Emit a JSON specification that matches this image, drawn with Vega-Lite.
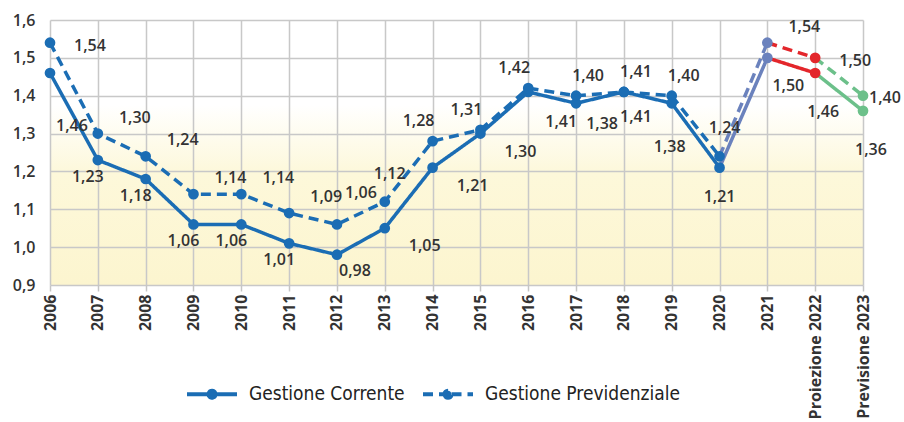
{
  "$schema": "https://vega.github.io/schema/vega-lite/v6.json",
  "width": 813,
  "height": 265,
  "autosize": {"type": "none"},
  "padding": {"left": 50, "top": 20, "right": 41, "bottom": 137},
  "background": "#ffffff",
  "config": {
    "locale": {"number": {"decimal": ",", "thousands": ".", "grouping": [3], "currency": ["€", ""]}},
    "view": {
      "stroke": null,
      "fill": {
        "gradient": "linear", "x1": 0, "y1": 0, "x2": 0, "y2": 1,
        "stops": [
          {"offset": 0, "color": "#ffffff"},
          {"offset": 0.32, "color": "#ffffff"},
          {"offset": 0.58, "color": "#fdf8da"},
          {"offset": 1, "color": "#fcf5cf"}
        ]
      }
    },
    "text": {"font": "Open Sans", "fontSize": 16, "fontWeight": 600, "fill": "#333333"}
  },
  "datasets": {
    "punti": [
      {"anno": "2006", "serie": "Gestione Corrente", "valore": 1.46, "tratto": "storico"},
      {"anno": "2007", "serie": "Gestione Corrente", "valore": 1.23, "tratto": "storico"},
      {"anno": "2008", "serie": "Gestione Corrente", "valore": 1.18, "tratto": "storico"},
      {"anno": "2009", "serie": "Gestione Corrente", "valore": 1.06, "tratto": "storico"},
      {"anno": "2010", "serie": "Gestione Corrente", "valore": 1.06, "tratto": "storico"},
      {"anno": "2011", "serie": "Gestione Corrente", "valore": 1.01, "tratto": "storico"},
      {"anno": "2012", "serie": "Gestione Corrente", "valore": 0.98, "tratto": "storico"},
      {"anno": "2013", "serie": "Gestione Corrente", "valore": 1.05, "tratto": "storico"},
      {"anno": "2014", "serie": "Gestione Corrente", "valore": 1.21, "tratto": "storico"},
      {"anno": "2015", "serie": "Gestione Corrente", "valore": 1.30, "tratto": "storico"},
      {"anno": "2016", "serie": "Gestione Corrente", "valore": 1.41, "tratto": "storico"},
      {"anno": "2017", "serie": "Gestione Corrente", "valore": 1.38, "tratto": "storico"},
      {"anno": "2018", "serie": "Gestione Corrente", "valore": 1.41, "tratto": "storico"},
      {"anno": "2019", "serie": "Gestione Corrente", "valore": 1.38, "tratto": "storico"},
      {"anno": "2020", "serie": "Gestione Corrente", "valore": 1.21, "tratto": "storico"},
      {"anno": "2021", "serie": "Gestione Corrente", "valore": 1.50, "tratto": "ponte"},
      {"anno": "Proiezione 2022", "serie": "Gestione Corrente", "valore": 1.46, "tratto": "proiezione"},
      {"anno": "Previsione 2023", "serie": "Gestione Corrente", "valore": 1.36, "tratto": "previsione"},
      {"anno": "2006", "serie": "Gestione Previdenziale", "valore": 1.54, "tratto": "storico"},
      {"anno": "2007", "serie": "Gestione Previdenziale", "valore": 1.30, "tratto": "storico"},
      {"anno": "2008", "serie": "Gestione Previdenziale", "valore": 1.24, "tratto": "storico"},
      {"anno": "2009", "serie": "Gestione Previdenziale", "valore": 1.14, "tratto": "storico"},
      {"anno": "2010", "serie": "Gestione Previdenziale", "valore": 1.14, "tratto": "storico"},
      {"anno": "2011", "serie": "Gestione Previdenziale", "valore": 1.09, "tratto": "storico"},
      {"anno": "2012", "serie": "Gestione Previdenziale", "valore": 1.06, "tratto": "storico"},
      {"anno": "2013", "serie": "Gestione Previdenziale", "valore": 1.12, "tratto": "storico"},
      {"anno": "2014", "serie": "Gestione Previdenziale", "valore": 1.28, "tratto": "storico"},
      {"anno": "2015", "serie": "Gestione Previdenziale", "valore": 1.31, "tratto": "storico"},
      {"anno": "2016", "serie": "Gestione Previdenziale", "valore": 1.42, "tratto": "storico"},
      {"anno": "2017", "serie": "Gestione Previdenziale", "valore": 1.40, "tratto": "storico"},
      {"anno": "2018", "serie": "Gestione Previdenziale", "valore": 1.41, "tratto": "storico"},
      {"anno": "2019", "serie": "Gestione Previdenziale", "valore": 1.40, "tratto": "storico"},
      {"anno": "2020", "serie": "Gestione Previdenziale", "valore": 1.24, "tratto": "storico"},
      {"anno": "2021", "serie": "Gestione Previdenziale", "valore": 1.54, "tratto": "ponte"},
      {"anno": "Proiezione 2022", "serie": "Gestione Previdenziale", "valore": 1.50, "tratto": "proiezione"},
      {"anno": "Previsione 2023", "serie": "Gestione Previdenziale", "valore": 1.40, "tratto": "previsione"}
    ],
    "linee": [
      {"anno": "2006", "serie": "Gestione Corrente", "valore": 1.46, "tratto": "storico"},
      {"anno": "2007", "serie": "Gestione Corrente", "valore": 1.23, "tratto": "storico"},
      {"anno": "2008", "serie": "Gestione Corrente", "valore": 1.18, "tratto": "storico"},
      {"anno": "2009", "serie": "Gestione Corrente", "valore": 1.06, "tratto": "storico"},
      {"anno": "2010", "serie": "Gestione Corrente", "valore": 1.06, "tratto": "storico"},
      {"anno": "2011", "serie": "Gestione Corrente", "valore": 1.01, "tratto": "storico"},
      {"anno": "2012", "serie": "Gestione Corrente", "valore": 0.98, "tratto": "storico"},
      {"anno": "2013", "serie": "Gestione Corrente", "valore": 1.05, "tratto": "storico"},
      {"anno": "2014", "serie": "Gestione Corrente", "valore": 1.21, "tratto": "storico"},
      {"anno": "2015", "serie": "Gestione Corrente", "valore": 1.30, "tratto": "storico"},
      {"anno": "2016", "serie": "Gestione Corrente", "valore": 1.41, "tratto": "storico"},
      {"anno": "2017", "serie": "Gestione Corrente", "valore": 1.38, "tratto": "storico"},
      {"anno": "2018", "serie": "Gestione Corrente", "valore": 1.41, "tratto": "storico"},
      {"anno": "2019", "serie": "Gestione Corrente", "valore": 1.38, "tratto": "storico"},
      {"anno": "2020", "serie": "Gestione Corrente", "valore": 1.21, "tratto": "storico"},
      {"anno": "2020", "serie": "Gestione Corrente", "valore": 1.21, "tratto": "ponte"},
      {"anno": "2021", "serie": "Gestione Corrente", "valore": 1.50, "tratto": "ponte"},
      {"anno": "2021", "serie": "Gestione Corrente", "valore": 1.50, "tratto": "proiezione"},
      {"anno": "Proiezione 2022", "serie": "Gestione Corrente", "valore": 1.46, "tratto": "proiezione"},
      {"anno": "Proiezione 2022", "serie": "Gestione Corrente", "valore": 1.46, "tratto": "previsione"},
      {"anno": "Previsione 2023", "serie": "Gestione Corrente", "valore": 1.36, "tratto": "previsione"},
      {"anno": "2006", "serie": "Gestione Previdenziale", "valore": 1.54, "tratto": "storico"},
      {"anno": "2007", "serie": "Gestione Previdenziale", "valore": 1.30, "tratto": "storico"},
      {"anno": "2008", "serie": "Gestione Previdenziale", "valore": 1.24, "tratto": "storico"},
      {"anno": "2009", "serie": "Gestione Previdenziale", "valore": 1.14, "tratto": "storico"},
      {"anno": "2010", "serie": "Gestione Previdenziale", "valore": 1.14, "tratto": "storico"},
      {"anno": "2011", "serie": "Gestione Previdenziale", "valore": 1.09, "tratto": "storico"},
      {"anno": "2012", "serie": "Gestione Previdenziale", "valore": 1.06, "tratto": "storico"},
      {"anno": "2013", "serie": "Gestione Previdenziale", "valore": 1.12, "tratto": "storico"},
      {"anno": "2014", "serie": "Gestione Previdenziale", "valore": 1.28, "tratto": "storico"},
      {"anno": "2015", "serie": "Gestione Previdenziale", "valore": 1.31, "tratto": "storico"},
      {"anno": "2016", "serie": "Gestione Previdenziale", "valore": 1.42, "tratto": "storico"},
      {"anno": "2017", "serie": "Gestione Previdenziale", "valore": 1.40, "tratto": "storico"},
      {"anno": "2018", "serie": "Gestione Previdenziale", "valore": 1.41, "tratto": "storico"},
      {"anno": "2019", "serie": "Gestione Previdenziale", "valore": 1.40, "tratto": "storico"},
      {"anno": "2020", "serie": "Gestione Previdenziale", "valore": 1.24, "tratto": "storico"},
      {"anno": "2020", "serie": "Gestione Previdenziale", "valore": 1.24, "tratto": "ponte"},
      {"anno": "2021", "serie": "Gestione Previdenziale", "valore": 1.54, "tratto": "ponte"},
      {"anno": "2021", "serie": "Gestione Previdenziale", "valore": 1.54, "tratto": "proiezione"},
      {"anno": "Proiezione 2022", "serie": "Gestione Previdenziale", "valore": 1.50, "tratto": "proiezione"},
      {"anno": "Proiezione 2022", "serie": "Gestione Previdenziale", "valore": 1.50, "tratto": "previsione"},
      {"anno": "Previsione 2023", "serie": "Gestione Previdenziale", "valore": 1.40, "tratto": "previsione"}
    ]
  },
  "encoding": {
    "x": {
      "field": "anno", "type": "ordinal",
      "scale": {"type": "point", "padding": 0, "domain": ["2006","2007","2008","2009","2010","2011","2012","2013","2014","2015","2016","2017","2018","2019","2020","2021","Proiezione 2022","Previsione 2023"]},
      "axis": {
        "title": null, "labelAngle": -90, "labelFont": "Open Sans", "labelFontSize": 16, "labelFontWeight": "bold",
        "labelColor": "#333333", "labelPadding": 3, "domain": false, "tickColor": "#c5c5c5", "tickWidth": 1.5, "tickSize": 6,
        "grid": true, "gridColor": "#c8c8c8", "gridWidth": 1.5
      }
    },
    "y": {
      "field": "valore", "type": "quantitative",
      "scale": {"domain": [0.9, 1.6], "zero": false, "nice": false},
      "axis": {
        "title": null, "values": [0.9, 1.0, 1.1, 1.2, 1.3, 1.4, 1.5, 1.6], "format": ".1f",
        "labelFont": "Open Sans", "labelFontSize": 16, "labelFontWeight": 600, "labelColor": "#333333",
        "labelPadding": 15, "ticks": false, "domain": false, "grid": true, "gridColor": "#c8c8c8", "gridWidth": 1.5
      }
    }
  },
  "layer": [
    {
      "data": {"name": "linee"},
      "mark": {"type": "line", "strokeWidth": 3.5, "strokeCap": "butt"},
      "encoding": {
        "color": {
          "field": "tratto", "type": "nominal",
          "scale": {"domain": ["storico", "ponte", "proiezione", "previsione"], "range": ["#1b6db4", "#6b82bd", "#e3262b", "#6cc08a"]},
          "legend": null
        },
        "strokeDash": {
          "field": "serie", "type": "nominal",
          "scale": {"domain": ["Gestione Corrente", "Gestione Previdenziale"], "range": [[1, 0], [10, 6]]},
          "legend": {
            "title": null, "orient": "none", "direction": "horizontal", "legendX": 135, "legendY": 347,
            "symbolType": "M-1,0H-0.14M0.14,0H1M-0.14,0A0.14,0.14 0 1,0 0.14,0A0.14,0.14 0 1,0 -0.14,0",
            "symbolSize": 2500, "symbolStrokeWidth": 4, "symbolStrokeColor": "#1b6db4", "symbolFillColor": "#1b6db4",
            "labelFont": "DejaVu Sans Condensed", "labelFontSize": 19, "labelColor": "#222222", "labelOffset": 10,
            "columnPadding": 10, "labelLimit": 300
          }
        },
        "detail": {"field": "serie"}
      }
    },
    {
      "data": {"name": "punti"},
      "mark": {"type": "circle", "size": 115, "opacity": 1},
      "encoding": {
        "color": {"field": "tratto", "type": "nominal", "legend": null}
      }
    },
    {
      "data": {"name": "punti"},
      "transform": [{"filter": {"and": [{"field": "serie", "equal": "Gestione Previdenziale"}, {"field": "anno", "oneOf": ["2007","2008","2009","2010","2011","2021"]}]}}],
      "mark": {"type": "text", "dx": 37, "dy": -16},
      "encoding": {"text": {"field": "valore", "type": "quantitative", "format": ".2f"}}
    },
    {
      "data": {"name": "punti"},
      "transform": [{"filter": {"and": [{"field": "serie", "equal": "Gestione Previdenziale"}, {"field": "anno", "oneOf": ["2006","Proiezione 2022"]}]}}],
      "mark": {"type": "text", "dx": 40, "dy": 3},
      "encoding": {"text": {"field": "valore", "type": "quantitative", "format": ".2f"}}
    },
    {
      "data": {"name": "punti"},
      "transform": [{"filter": {"and": [{"field": "serie", "equal": "Gestione Previdenziale"}, {"field": "anno", "equal": "Previsione 2023"}]}}],
      "mark": {"type": "text", "dx": 22, "dy": 2},
      "encoding": {"text": {"field": "valore", "type": "quantitative", "format": ".2f"}}
    },
    {
      "data": {"name": "punti"},
      "transform": [{"filter": {"and": [{"field": "serie", "equal": "Gestione Previdenziale"}, {"field": "anno", "equal": "2012"}]}}],
      "mark": {"type": "text", "dx": 24, "dy": -31},
      "encoding": {"text": {"field": "valore", "type": "quantitative", "format": ".2f"}}
    },
    {
      "data": {"name": "punti"},
      "transform": [{"filter": {"and": [{"field": "serie", "equal": "Gestione Previdenziale"}, {"field": "anno", "oneOf": ["2013","2020"]}]}}],
      "mark": {"type": "text", "dx": 5, "dy": -28},
      "encoding": {"text": {"field": "valore", "type": "quantitative", "format": ".2f"}}
    },
    {
      "data": {"name": "punti"},
      "transform": [{"filter": {"and": [{"field": "serie", "equal": "Gestione Previdenziale"}, {"field": "anno", "oneOf": ["2014","2015","2016"]}]}}],
      "mark": {"type": "text", "dx": -14, "dy": -20},
      "encoding": {"text": {"field": "valore", "type": "quantitative", "format": ".2f"}}
    },
    {
      "data": {"name": "punti"},
      "transform": [{"filter": {"and": [{"field": "serie", "equal": "Gestione Previdenziale"}, {"field": "anno", "oneOf": ["2017","2018","2019"]}]}}],
      "mark": {"type": "text", "dx": 12, "dy": -20},
      "encoding": {"text": {"field": "valore", "type": "quantitative", "format": ".2f"}}
    },
    {
      "data": {"name": "punti"},
      "transform": [{"filter": {"and": [{"field": "serie", "equal": "Gestione Corrente"}, {"field": "anno", "oneOf": ["2007","2008","2009","2010","2011"]}]}}],
      "mark": {"type": "text", "dx": -10, "dy": 17},
      "encoding": {"text": {"field": "valore", "type": "quantitative", "format": ".2f"}}
    },
    {
      "data": {"name": "punti"},
      "transform": [{"filter": {"and": [{"field": "serie", "equal": "Gestione Corrente"}, {"field": "anno", "equal": "2012"}]}}],
      "mark": {"type": "text", "dx": 18, "dy": 16},
      "encoding": {"text": {"field": "valore", "type": "quantitative", "format": ".2f"}}
    },
    {
      "data": {"name": "punti"},
      "transform": [{"filter": {"and": [{"field": "serie", "equal": "Gestione Corrente"}, {"field": "anno", "oneOf": ["2013","2014","2015"]}]}}],
      "mark": {"type": "text", "dx": 40, "dy": 18},
      "encoding": {"text": {"field": "valore", "type": "quantitative", "format": ".2f"}}
    },
    {
      "data": {"name": "punti"},
      "transform": [{"filter": {"and": [{"field": "serie", "equal": "Gestione Corrente"}, {"field": "anno", "equal": "2016"}]}}],
      "mark": {"type": "text", "dx": 33, "dy": 30},
      "encoding": {"text": {"field": "valore", "type": "quantitative", "format": ".2f"}}
    },
    {
      "data": {"name": "punti"},
      "transform": [{"filter": {"and": [{"field": "serie", "equal": "Gestione Corrente"}, {"field": "anno", "equal": "2017"}]}}],
      "mark": {"type": "text", "dx": 26, "dy": 21},
      "encoding": {"text": {"field": "valore", "type": "quantitative", "format": ".2f"}}
    },
    {
      "data": {"name": "punti"},
      "transform": [{"filter": {"and": [{"field": "serie", "equal": "Gestione Corrente"}, {"field": "anno", "equal": "2018"}]}}],
      "mark": {"type": "text", "dx": 12, "dy": 25},
      "encoding": {"text": {"field": "valore", "type": "quantitative", "format": ".2f"}}
    },
    {
      "data": {"name": "punti"},
      "transform": [{"filter": {"and": [{"field": "serie", "equal": "Gestione Corrente"}, {"field": "anno", "equal": "2019"}]}}],
      "mark": {"type": "text", "dx": -2, "dy": 44},
      "encoding": {"text": {"field": "valore", "type": "quantitative", "format": ".2f"}}
    },
    {
      "data": {"name": "punti"},
      "transform": [{"filter": {"and": [{"field": "serie", "equal": "Gestione Corrente"}, {"field": "anno", "equal": "2020"}]}}],
      "mark": {"type": "text", "dx": 0, "dy": 29},
      "encoding": {"text": {"field": "valore", "type": "quantitative", "format": ".2f"}}
    },
    {
      "data": {"name": "punti"},
      "transform": [{"filter": {"and": [{"field": "serie", "equal": "Gestione Corrente"}, {"field": "anno", "equal": "2021"}]}}],
      "mark": {"type": "text", "dx": 21, "dy": 28},
      "encoding": {"text": {"field": "valore", "type": "quantitative", "format": ".2f"}}
    },
    {
      "data": {"name": "punti"},
      "transform": [{"filter": {"and": [{"field": "serie", "equal": "Gestione Corrente"}, {"field": "anno", "oneOf": ["Proiezione 2022","Previsione 2023"]}]}}],
      "mark": {"type": "text", "dx": 8, "dy": 39},
      "encoding": {"text": {"field": "valore", "type": "quantitative", "format": ".2f"}}
    },
    {
      "data": {"name": "punti"},
      "transform": [{"filter": {"and": [{"field": "serie", "equal": "Gestione Corrente"}, {"field": "anno", "equal": "2006"}]}}],
      "mark": {"type": "text", "dx": 22, "dy": 53},
      "encoding": {"text": {"field": "valore", "type": "quantitative", "format": ".2f"}}
    }
  ]
}
